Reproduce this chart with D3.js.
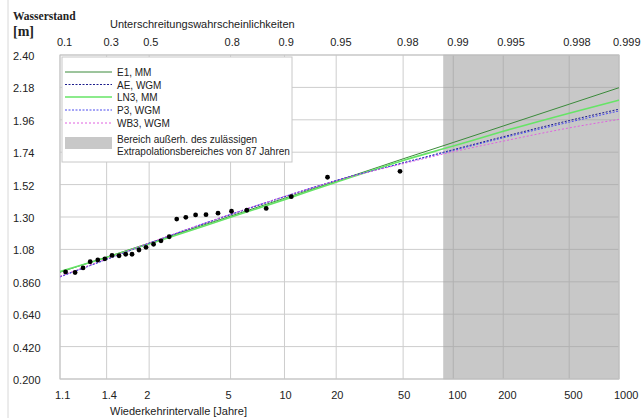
<!DOCTYPE html>
<html>
<head>
<meta charset="utf-8">
<script src="https://cdn.jsdelivr.net/npm/d3@7"></script>
<style>
  body { margin: 0; background: #fff; }
  text { font-family: "Liberation Sans", Arial, sans-serif; fill: #222; }
</style>
</head>
<body>
<svg id="chart"></svg>
<script>
const obsT = [1.122, 1.167, 1.213, 1.261, 1.32, 1.383, 1.455, 1.535, 1.62, 1.709, 1.818, 1.941,
  2.088, 2.25, 2.451, 2.657, 2.938, 3.284, 3.709, 4.285, 5.058, 6.135, 7.87, 10.94, 17.78, 47.9];
const obsLevel = [0.927, 0.923, 0.954, 0.996, 1.008, 1.016, 1.039, 1.037, 1.047, 1.047, 1.076, 1.094,
  1.115, 1.138, 1.166, 1.286, 1.298, 1.314, 1.316, 1.326, 1.339, 1.346, 1.358, 1.438, 1.57, 1.61];

// fitted distributions, sampled at these return periods
const fitT = [1.1, 1.5, 2, 5, 10, 20, 50, 100, 200, 500, 1000];
const e1 = [0.925, 1.049, 1.123, 1.306, 1.427, 1.543, 1.695, 1.806, 1.918, 2.066, 2.178];
const ae = [0.895, 1.037, 1.121, 1.316, 1.437, 1.548, 1.668, 1.757, 1.845, 1.955, 2.032];
const ln3 = [0.93, 1.045, 1.117, 1.298, 1.418, 1.536, 1.684, 1.782, 1.882, 2.005, 2.094];
const p3 = [0.893, 1.036, 1.122, 1.318, 1.439, 1.548, 1.666, 1.752, 1.838, 1.944, 2.02];
const wb3 = [0.897, 1.04, 1.124, 1.319, 1.44, 1.547, 1.662, 1.743, 1.815, 1.905, 1.963];

const seriesNames = ["E1, MM", "AE, WGM", "LN3, MM", "P3, WGM", "WB3, WGM"];
const seriesValues = [e1, ae, ln3, p3, wb3];

const bottomTicks = [1.1, 1.4, 2, 5, 10, 20, 50, 100, 200, 500, 1000];
const topTicks = ["0.1", "0.3", "0.5", "0.8", "0.9", "0.95", "0.98", "0.99", "0.995", "0.998", "0.999"];
const yTicks = [2.40, 2.18, 1.96, 1.74, 1.52, 1.30, 1.08, 0.860, 0.640, 0.420, 0.200];
const yTickLabels = ["2.40", "2.18", "1.96", "1.74", "1.52", "1.30", "1.08", "0.860", "0.640", "0.420", "0.200"];
const extrapolationLimit = 87;

const width = 644;
const height = 418;
const margin = { top: 55, right: 25, bottom: 39, left: 60 };

const styles = [
  { color: "#3a8a3a", width: 1, dash: null },
  { color: "#1c1c8c", width: 1, dash: "2,1.5" },
  { color: "#66e466", width: 1.6, dash: null },
  { color: "#4a4aee", width: 1, dash: "2,1.5" },
  { color: "#e060e0", width: 1, dash: "2,2" },
];

// Gumbel reduced variate
const gumbelT = (T) => -Math.log(-Math.log(1 - 1 / T));
const gumbelP = (p) => -Math.log(-Math.log(p));

const svg = d3.select("#chart").attr("width", width).attr("height", height);

const x = d3.scaleLinear()
  .domain([gumbelT(1.1), gumbelT(1000)])
  .range([margin.left, width - margin.right]);
const y = d3.scaleLinear()
  .domain([0.2, 2.4])
  .range([height - margin.bottom, margin.top]);

const x0 = margin.left, x1 = width - margin.right;
const y0 = margin.top, y1 = height - margin.bottom;
const xShade = x(gumbelT(extrapolationLimit));

// outer frame line on the left
svg.append("line").attr("x1", 8).attr("x2", 8).attr("y1", 0).attr("y2", height)
  .attr("stroke", "#d8d8d8");

// shaded extrapolation area
svg.append("rect")
  .attr("x", xShade).attr("y", y0)
  .attr("width", x1 - xShade).attr("height", y1 - y0)
  .attr("fill", "#c8c8c8");

// grid
const grid = svg.append("g");
yTicks.forEach((v) => {
  grid.append("line").attr("x1", x0).attr("x2", xShade).attr("y1", y(v)).attr("y2", y(v))
    .attr("stroke", "#cdcdcd");
  grid.append("line").attr("x1", xShade).attr("x2", x1).attr("y1", y(v)).attr("y2", y(v))
    .attr("stroke", "#b2b2b2");
});
bottomTicks.forEach((T) => {
  const px = x(gumbelT(T));
  grid.append("line").attr("x1", px).attr("x2", px).attr("y1", y0).attr("y2", y1)
    .attr("stroke", px > xShade ? "#b2b2b2" : "#cdcdcd");
});
svg.append("rect").attr("x", x0).attr("y", y0).attr("width", x1 - x0).attr("height", y1 - y0)
  .attr("fill", "none").attr("stroke", "#c4c4c4");

// fitted lines
const line = d3.line()
  .x((d) => x(gumbelT(d[0])))
  .y((d) => y(d[1]))
  .curve(d3.curveMonotoneX);

seriesValues.forEach((vals, i) => {
  svg.append("path")
    .datum(fitT.map((T, j) => [T, vals[j]]))
    .attr("d", line)
    .attr("fill", "none")
    .attr("stroke", styles[i].color)
    .attr("stroke-width", styles[i].width)
    .attr("stroke-dasharray", styles[i].dash);
});

// observations
svg.append("g").selectAll("circle")
  .data(obsT.map((T, i) => [T, obsLevel[i]]))
  .join("circle")
  .attr("cx", (d) => x(gumbelT(d[0])))
  .attr("cy", (d) => y(d[1]))
  .attr("r", 2.4)
  .attr("fill", "#000");

// y labels
svg.append("g").selectAll("text")
  .data(yTicks)
  .join("text")
  .attr("x", 13)
  .attr("y", (d) => y(d) + 5)
  .attr("font-size", 11)
  .text((d, i) => yTickLabels[i]);

// bottom labels
svg.append("g").selectAll("text")
  .data(bottomTicks)
  .join("text")
  .attr("x", (d) => x(gumbelT(d)) - 5)
  .attr("y", 399)
  .attr("font-size", 11)
  .text((d) => d);

// top labels
svg.append("g").selectAll("text")
  .data(topTicks)
  .join("text")
  .attr("x", (d) => x(gumbelP(+d)) - 6)
  .attr("y", 46)
  .attr("font-size", 11)
  .text((d) => d);

svg.append("text").attr("x", 110).attr("y", 28).attr("font-size", 11)
  .text("Unterschreitungswahrscheinlichkeiten");
svg.append("text").attr("x", 110).attr("y", 415).attr("font-size", 11)
  .text("Wiederkehrintervalle [Jahre]");
svg.append("text").attr("x", 13).attr("y", 20)
  .style("font-family", "'Liberation Serif', 'Times New Roman', serif")
  .attr("font-weight", "bold").attr("font-size", 11.5)
  .text("Wasserstand");
svg.append("text").attr("x", 13).attr("y", 36)
  .style("font-family", "'Liberation Serif', 'Times New Roman', serif")
  .attr("font-weight", "bold").attr("font-size", 14)
  .text("[m]");

// legend
const legend = svg.append("g");
legend.append("rect")
  .attr("x", 62).attr("y", 57).attr("width", 230).attr("height", 105)
  .attr("fill", "#fff").attr("stroke", "#c8c8c8");
const rowY = [72, 84.5, 97, 110, 123];
seriesNames.forEach((name, i) => {
  legend.append("line")
    .attr("x1", 65).attr("x2", 112).attr("y1", rowY[i]).attr("y2", rowY[i])
    .attr("stroke", styles[i].color)
    .attr("stroke-width", styles[i].width)
    .attr("stroke-dasharray", styles[i].dash);
  legend.append("text").attr("x", 117).attr("y", rowY[i] + 4).attr("font-size", 10).text(name);
});
legend.append("rect").attr("x", 65).attr("y", 137).attr("width", 47).attr("height", 12)
  .attr("fill", "#c8c8c8");
legend.append("text").attr("x", 117).attr("y", 142.5).attr("font-size", 10)
  .text("Bereich außerh. des zulässigen");
legend.append("text").attr("x", 117).attr("y", 154.5).attr("font-size", 10)
  .text("Extrapolationsbereiches von " + extrapolationLimit + " Jahren");
</script>
</body>
</html>
